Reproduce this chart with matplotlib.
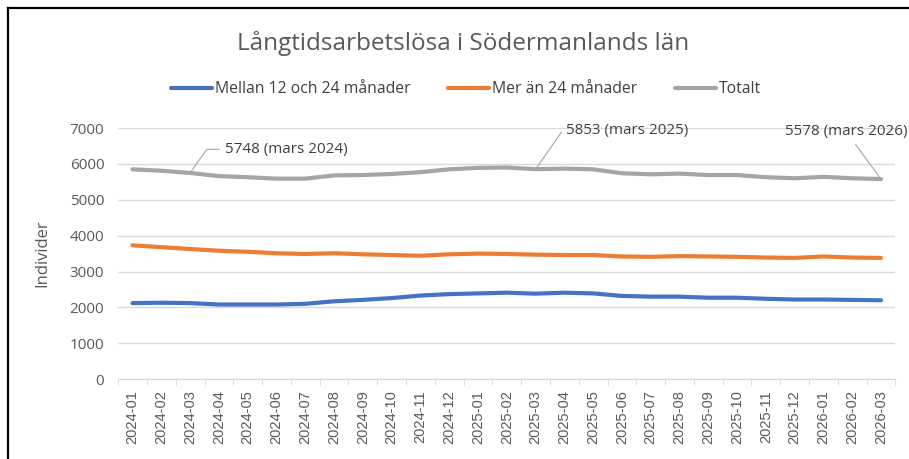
import matplotlib.pyplot as plt
from matplotlib.lines import Line2D

months = ['2024-01', '2024-02', '2024-03', '2024-04', '2024-05', '2024-06', '2024-07',
          '2024-08', '2024-09', '2024-10', '2024-11', '2024-12', '2025-01', '2025-02',
          '2025-03', '2025-04', '2025-05', '2025-06', '2025-07', '2025-08', '2025-09',
          '2025-10', '2025-11', '2025-12', '2026-01', '2026-02', '2026-03']
mellan = [2120, 2130, 2120, 2080, 2080, 2080, 2100, 2170, 2210, 2260, 2330, 2370, 2390, 2410,
          2383, 2410, 2390, 2320, 2300, 2300, 2270, 2270, 2240, 2220, 2220, 2210, 2198]
mer = [3730, 3680, 3628, 3580, 3550, 3510, 3490, 3510, 3480, 3460, 3440, 3480, 3500, 3490,
       3470, 3460, 3460, 3420, 3410, 3430, 3420, 3410, 3390, 3380, 3420, 3390, 3380]
totalt = [5850, 5810, 5748, 5660, 5630, 5590, 5590, 5680, 5690, 5720, 5770, 5850, 5890, 5900,
          5853, 5870, 5850, 5740, 5710, 5730, 5690, 5690, 5630, 5600, 5640, 5600, 5578]
labels = {2: '5748 (mars 2024)', 14: '5853 (mars 2025)', 26: '5578 (mars 2026)'}

plt.rcParams['font.family'] = ['Open Sans', 'DejaVu Sans']

fig = plt.figure(figsize=(9.09, 4.59), dpi=100)
ax = fig.add_axes([0.130, 0.174, 0.855, 0.547])
# chart frame, only the top and left edges are inside the picture
fig.lines.append(Line2D([0.009, 1.0], [0.983, 0.983], transform=fig.transFigure,
                        color='black', lw=1.6))
fig.lines.append(Line2D([0.009, 0.009], [0.0, 0.983], transform=fig.transFigure,
                        color='black', lw=1.6))

x = list(range(len(months)))
ax.plot(x, mellan, color='#4472C4', lw=3, label='Mellan 12 och 24 månader', solid_capstyle='round')
ax.plot(x, mer, color='#ED7D31', lw=3, label='Mer än 24 månader', solid_capstyle='round')
ax.plot(x, totalt, color='#A5A5A5', lw=3, label='Totalt', solid_capstyle='round')

ax.set_xlim(-0.5, len(months) - 0.5)
ax.set_ylim(0, 7000)
ax.set_yticks(range(0, 7001, 1000))
ax.tick_params(axis='y', length=0, labelsize=11, colors='#595959', pad=10)
ax.set_xticks(x)
ax.set_xticklabels(months, rotation=90, fontsize=10.5, color='#595959', family='Liberation Sans')
ax.set_xticks([i - 0.5 for i in range(len(months) + 1)], minor=True)
ax.tick_params(axis='x', which='major', length=0, pad=8)
ax.tick_params(axis='x', which='minor', length=5, color='#d9d9d9')
ax.grid(axis='y', color='#d9d9d9', lw=1)
ax.set_axisbelow(True)
for s in ['top', 'right', 'left']:
    ax.spines[s].set_visible(False)
ax.spines['bottom'].set_color('#d9d9d9')
ax.set_ylabel('Individer', fontsize=12, color='#595959', labelpad=14)

# label offsets in points (text anchor relative to the data point)
offsets = {2: (25, 17), 14: (22, 28), 26: (-25, 34)}
for i, txt in labels.items():
    dx, dy = offsets[i]
    left = i != 26
    ax.annotate(txt, (i, totalt[i]), xytext=(dx, dy), textcoords='offset points',
                fontsize=11, color='#404040', ha='left' if left else 'center', va='center',
                arrowprops=dict(arrowstyle='-', color='#A5A5A5', lw=0.8, shrinkA=2, shrinkB=0,
                                connectionstyle='angle,angleA=0,angleB=55,rad=0' if left else 'arc3'))

fig.text(0.509, 0.905, 'Långtidsarbetslösa i Södermanlands län', ha='center', va='center',
         fontsize=17.5, color='#595959')
fig.legend(loc='center', bbox_to_anchor=(0.513, 0.806), ncol=3, frameon=False, fontsize=11.3,
           handlelength=2.6, columnspacing=2.4, handletextpad=0.2, labelcolor='#404040')

plt.savefig('out.png', dpi=100)
